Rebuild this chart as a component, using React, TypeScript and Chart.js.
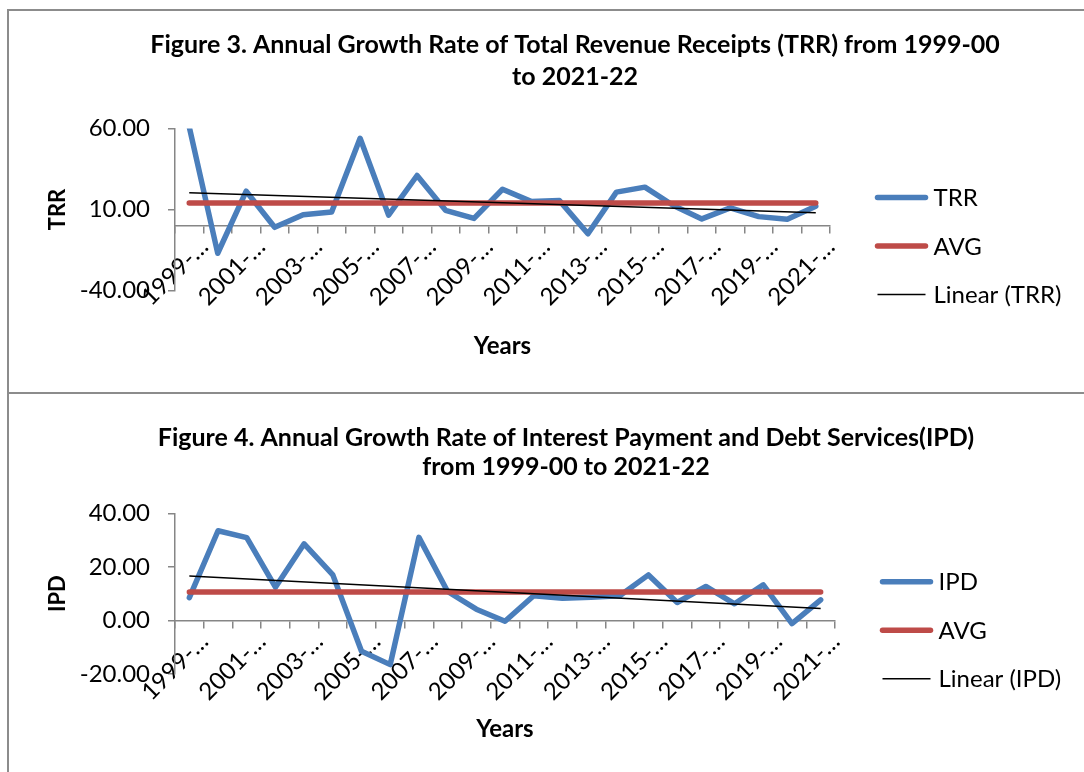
import React, { useEffect, useRef } from 'react';
import { Chart, registerables } from 'chart.js';

Chart.register(...registerables);

// ---------------- data ----------------
const categories = [
  '1999-00', '2000-01', '2001-02', '2002-03', '2003-04', '2004-05', '2005-06', '2006-07',
  '2007-08', '2008-09', '2009-10', '2010-11', '2011-12', '2012-13', '2013-14', '2014-15',
  '2015-16', '2016-17', '2017-18', '2018-19', '2019-20', '2020-21', '2021-22',
];

const trrValues = [61, -17, 21.3, -1, 6.8, 8.5, 54, 6.5, 31, 9.5, 4.5, 22.5, 15, 15.5, -5, 20.7, 23.8, 12.5, 4.2, 11, 5.6, 4, 12];
const trrAvg = [14.0, 14.0]; // first year, last year
const trrTrend = [20.4, 8.0]; // first year, last year
const trrYTicks = [-40, 10, 60];

const ipdValues = [8.5, 33.5, 30.9, 12.4, 28.6, 17, -11.5, -16.5, 31, 10.8, 4.2, -0.3, 9.2, 8.3, 8.7, 9.2, 17, 6.7, 12.7, 6.2, 13.3, -1.2, 7.7];
const ipdAvg = [10.6, 10.6];
const ipdTrend = [16.6, 4.5];
const ipdYTicks = [-20, 0, 20, 40];

const trrTitle = ['Figure 3. Annual Growth Rate of Total Revenue Receipts (TRR) from 1999-00', 'to 2021-22'];
const ipdTitle = ['Figure 4. Annual Growth Rate of Interest Payment and Debt Services(IPD)', 'from 1999-00 to 2021-22'];

// ---------------- style ----------------
const FONT = "Lato, 'Open Sans', 'DejaVu Sans', sans-serif";
const BLUE = '#4A7EBB';
const RED = '#BE4B48';
const GRAY = '#868686';

const shortLabel = (s: string) => s.slice(0, 5) + '\u2026';

const sideLegend = {
  id: 'sideLegend',
  afterDraw(chart: any, _args: any, opts: any) {
    const { ctx, chartArea } = chart;
    const cy = (chartArea.top + chartArea.bottom) / 2 + opts.offsetY;
    const x0 = chartArea.right + opts.offsetX;
    const dsets = chart.data.datasets;
    const n = dsets.length;
    ctx.save();
    ctx.font = `${opts.fontSize}px ${FONT}`;
    ctx.textBaseline = 'middle';
    ctx.textAlign = 'left';
    dsets.forEach((ds: any, i: number) => {
      const y = cy + (i - (n - 1) / 2) * opts.spacing;
      ctx.beginPath();
      ctx.lineWidth = ds.borderWidth;
      ctx.strokeStyle = ds.borderColor;
      ctx.lineCap = ds.borderWidth > 2 ? 'round' : 'butt';
      ctx.moveTo(x0, y);
      ctx.lineTo(x0 + opts.markerLen, y);
      ctx.stroke();
      ctx.fillStyle = '#000';
      ctx.fillText(ds.label, x0 + opts.markerLen + opts.gap, y + 1);
    });
    ctx.restore();
  },
};

type Params = {
  title: string[];
  titleLineHeight: number;
  yTitle: string;
  label: string;
  values: number[];
  avg: number[];
  trend: number[];
  trendLabel: string;
  yTicks: number[];
  rightSpace: number;
  titlePad: { top: number; bottom: number };
  xTitlePadBottom: number;
  bottomPad: number;
};

function buildConfig(p: Params): any {
  const first = categories[0];
  const last = categories[categories.length - 1];
  const yMin = p.yTicks[0];
  const yMax = p.yTicks[p.yTicks.length - 1];
  const step = p.yTicks[1] - p.yTicks[0];
  return {
    type: 'line',
    data: {
      labels: categories,
      datasets: [
        {
          label: p.label,
          data: p.values,
          borderColor: BLUE,
          backgroundColor: BLUE,
          borderWidth: 5.5,
          pointRadius: 0,
          tension: 0,
          borderJoinStyle: 'round',
          borderCapStyle: 'round',
          clip: 0,
          order: 3,
        },
        {
          label: 'AVG',
          data: [{ x: first, y: p.avg[0] }, { x: last, y: p.avg[1] }],
          borderColor: RED,
          backgroundColor: RED,
          borderWidth: 5.5,
          pointRadius: 0,
          borderCapStyle: 'round',
          order: 2,
        },
        {
          label: p.trendLabel,
          data: [{ x: first, y: p.trend[0] }, { x: last, y: p.trend[1] }],
          borderColor: '#000',
          backgroundColor: '#000',
          borderWidth: 1.5,
          pointRadius: 0,
          order: 1,
        },
      ],
    },
    options: {
      responsive: false,
      animation: false,
      events: [],
      layout: { padding: { left: 0, right: 0, top: 0, bottom: p.bottomPad } },
      plugins: {
        legend: { display: false },
        tooltip: { enabled: false },
        title: {
          display: true,
          text: p.title,
          color: '#000',
          font: { family: FONT, size: 25, weight: 'bold', lineHeight: p.titleLineHeight / 25 },
          padding: p.titlePad,
        },
        sideLegend: { offsetX: 47.5, offsetY: 36.5, spacing: 48.5, markerLen: 48, gap: 8, fontSize: 24 },
      },
      scales: {
        x: {
          type: 'category',
          offset: true,
          position: { y: 0 },
          ticks: {
            autoSkip: false,
            minRotation: 45,
            maxRotation: 45,
            padding: 0,
            labelOffset: 15,
            color: '#000',
            font: { family: FONT, size: 24 },
            callback: (_v: any, i: number) => (i % 2 === 0 ? shortLabel(categories[i]) : ''),
          },
          grid: { offset: true, drawOnChartArea: false, drawTicks: true, tickLength: 7, color: GRAY, lineWidth: 1.5 },
          border: { display: true, color: GRAY, width: 1.5 },
          title: {
            display: true,
            text: 'Years',
            color: '#000',
            font: { family: FONT, size: 24, weight: 'bold' },
            padding: { top: 0, bottom: p.xTitlePadBottom },
          },
          afterFit: (s: any) => {
            s.height = 140;
          },
        },
        y: {
          type: 'linear',
          position: 'left',
          min: yMin,
          max: yMax,
          ticks: {
            stepSize: step,
            padding: 18,
            color: '#000',
            font: { family: FONT, size: 24 },
            callback: (v: any) => Number(v).toFixed(2),
          },
          grid: { drawOnChartArea: false, drawTicks: true, tickLength: 7, color: GRAY, lineWidth: 1.5 },
          border: { display: true, color: GRAY, width: 1.5 },
          title: {
            display: true,
            text: p.yTitle,
            color: '#000',
            font: { family: FONT, size: 22, weight: 'bold' },
            padding: { top: 35.8, bottom: 0 },
          },
          afterFit: (s: any) => {
            s.width = 166;
          },
        },
        spacer: {
          type: 'linear',
          position: 'right',
          display: true,
          grid: { display: false, drawTicks: false },
          border: { display: false },
          ticks: { display: false },
          title: { display: false },
          afterFit: (s: any) => {
            s.width = p.rightSpace;
          },
        },
      },
    },
    plugins: [sideLegend],
  };
}

function ChartCanvas({ params, width, height }: { params: Params; width: number; height: number }) {
  const ref = useRef<HTMLCanvasElement | null>(null);
  useEffect(() => {
    if (!ref.current) return;
    let chart: Chart | null = new Chart(ref.current, buildConfig(params));
    const fonts: any = (document as any).fonts;
    if (fonts && fonts.load) {
      Promise.all([fonts.load(`22px Lato`), fonts.load(`bold 22px Lato`)])
        .then(() => {
          if (chart) chart.update();
        })
        .catch(() => {});
    }
    return () => {
      if (chart) chart.destroy();
      chart = null;
    };
  }, []);
  return (
    <canvas
      ref={ref}
      width={width}
      height={height}
      style={{ position: 'absolute', left: 0, top: 0, width, height, display: 'block' }}
    />
  );
}

const trrParams: Params = {
  title: trrTitle,
  titleLineHeight: 32,
  yTitle: 'TRR',
  label: 'TRR',
  values: trrValues,
  avg: trrAvg,
  trend: trrTrend,
  trendLabel: 'Linear (TRR)',
  yTicks: trrYTicks,
  rightSpace: 311,
  titlePad: { top: 17.7, bottom: 35.8 },
  xTitlePadBottom: 4.8,
  bottomPad: 140.5,
};

const ipdParams: Params = {
  title: ipdTitle,
  titleLineHeight: 29,
  yTitle: 'IPD',
  label: 'IPD',
  values: ipdValues,
  avg: ipdAvg,
  trend: ipdTrend,
  trendLabel: 'Linear (IPD)',
  yTicks: ipdYTicks,
  rightSpace: 288,
  titlePad: { top: 29.5, bottom: 31.8 },
  xTitlePadBottom: 16.5,
  bottomPad: 140,
};

export default function App() {
  const border = `2px solid #8c8c8c`;
  return (
    <div>
      <div
        style={{
          position: 'absolute',
          left: 7,
          top: 9,
          width: 1077,
          height: 385,
          boxSizing: 'border-box',
          borderTop: border,
          borderLeft: border,
          borderBottom: border,
          overflow: 'hidden',
          background: '#fff',
        }}
      >
        <ChartCanvas params={trrParams} width={1132} height={420} />
      </div>
      <div
        style={{
          position: 'absolute',
          left: 7,
          top: 394,
          width: 1077,
          height: 378,
          boxSizing: 'border-box',
          borderLeft: border,
          overflow: 'hidden',
          background: '#fff',
        }}
      >
        <ChartCanvas params={ipdParams} width={1114} height={420} />
      </div>
    </div>
  );
}
